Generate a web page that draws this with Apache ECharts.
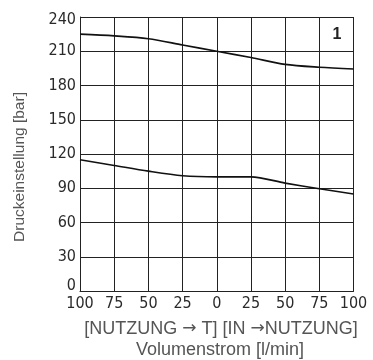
<!DOCTYPE html>
<html>
<head>
<meta charset="utf-8">
<script src="https://cdn.jsdelivr.net/npm/echarts@6/dist/echarts.min.js"></script>
<style>
  html, body { margin: 0; padding: 0; background: #fff; }
  #chart { width: 373px; height: 360px; }
</style>
</head>
<body>
<div id="chart"></div>
<script>
// x ticks: flow, read left (NUTZUNG -> T) to right (IN -> NUTZUNG)
const flowLabels = ['100', '75', '50', '25', '0', '25', '50', '75', '100'];
// pressure curves [bar]
const upperCurve = [225, 223.5, 221, 215.5, 210, 204.5, 198.5, 196, 194.5];
const lowerCurve = [115, 110, 105, 101, 100, 100, 94.5, 89.5, 85];

document.addEventListener('DOMContentLoaded', function () {
    const chartDom = document.getElementById('chart');
    const chart = echarts.init(chartDom);

    const tickFont = {
        fontFamily: 'DejaVu Sans Condensed',
        fontSize: 16,
        color: '#2a2a2a'
    };
    const lineStyleCommon = { color: '#111', width: 1.6 };
    const titleText = { fontFamily: 'Liberation Sans', fontSize: 18, fill: '#555' };
    const arrowText = { fontFamily: 'DejaVu Sans', fontSize: 17, fill: '#555' };

    const option = {
        animation: false,
        grid: {
            left: 80,
            right: 19.5,
            top: 17,
            bottom: 69
        },
        xAxis: {
            type: 'category',
            data: flowLabels,
            boundaryGap: false,
            axisLine: { show: true, lineStyle: { color: '#222', width: 1 } },
            axisTick: { show: false },
            axisLabel: Object.assign({ margin: 5, interval: 0 }, tickFont),
            splitLine: { show: true, lineStyle: { color: '#222', width: 1 } }
        },
        yAxis: {
            type: 'value',
            min: 0,
            max: 240,
            interval: 30,
            axisLine: { show: true, lineStyle: { color: '#222', width: 1 } },
            axisTick: { show: false },
            axisLabel: Object.assign({
                margin: 4,
                formatter: function (v) {
                    if (v === 0) return '{lo|0}';
                    if (v === 240) return '{hi|240}';
                    return String(v);
                },
                rich: {
                    lo: Object.assign({ padding: [0, 0, 10, 0] }, tickFont),
                    hi: Object.assign({ padding: [5, 0, 0, 0] }, tickFont)
                }
            }, tickFont),
            splitLine: { show: true, lineStyle: { color: '#222', width: 1 } }
        },
        graphic: [
            {
                type: 'text',
                x: 20,
                y: 167,
                rotation: Math.PI / 2,
                style: {
                    text: 'Druckeinstellung [bar]',
                    font: '15.5px "Liberation Sans"',
                    fill: '#555',
                    align: 'center',
                    verticalAlign: 'middle'
                }
            },
            {
                type: 'text',
                x: 221,
                y: 329,
                style: {
                    text: '{t|[NUTZUNG }{a|\u2192}{t| T] [IN }{a|\u2192}{t|NUTZUNG]}',
                    rich: { t: titleText, a: arrowText },
                    align: 'center',
                    verticalAlign: 'middle'
                }
            },
            {
                type: 'text',
                x: 220,
                y: 350,
                style: {
                    text: 'Volumenstrom [l/min]',
                    font: '18px "Liberation Sans"',
                    fill: '#555',
                    align: 'center',
                    verticalAlign: 'middle'
                }
            },
            {
                type: 'text',
                x: 337,
                y: 35,
                style: {
                    text: '1',
                    font: 'bold 16px "Liberation Sans"',
                    fill: '#222',
                    align: 'center',
                    verticalAlign: 'middle'
                }
            }
        ],
        series: [
            {
                name: 'upper',
                type: 'line',
                data: upperCurve,
                smooth: 0.3,
                symbol: 'none',
                lineStyle: lineStyleCommon
            },
            {
                name: 'lower',
                type: 'line',
                data: lowerCurve,
                smooth: 0.3,
                symbol: 'none',
                lineStyle: lineStyleCommon
            }
        ]
    };
    chart.setOption(option);
});
</script>
</body>
</html>
